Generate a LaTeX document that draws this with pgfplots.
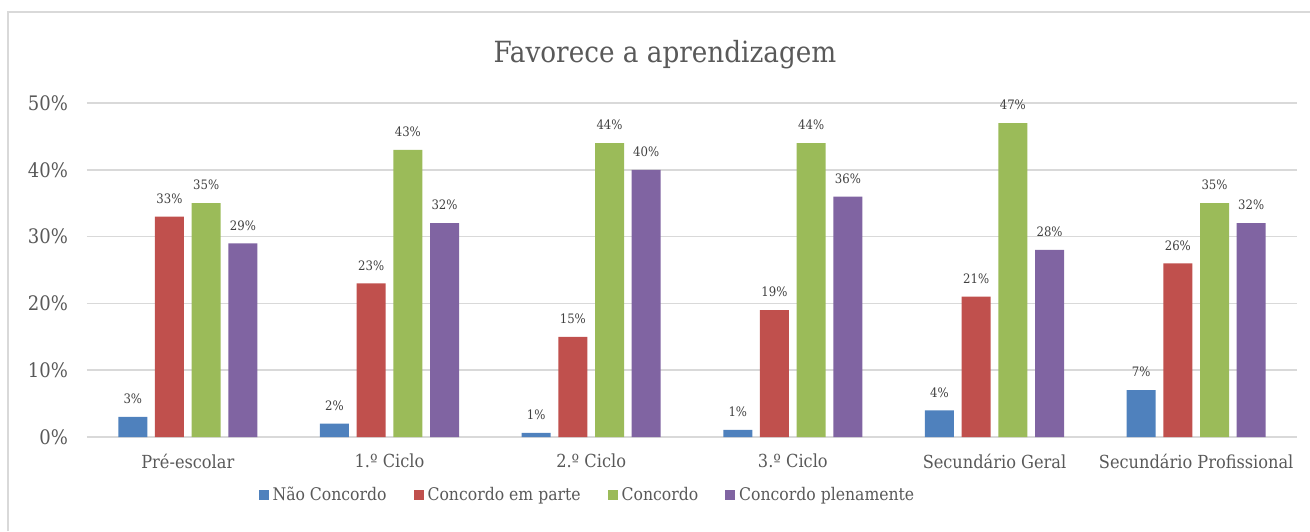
\documentclass[border=0pt]{standalone}
\usepackage{pgfplots}
\pgfplotsset{compat=1.18}
\usepackage{fontspec}
\setmainfont{DejaVu Serif Condensed}
\definecolor{cblue}{HTML}{4F81BD}
\definecolor{cred}{HTML}{C0504D}
\definecolor{cgreen}{HTML}{9BBB59}
\definecolor{cpurple}{HTML}{8064A2}
\definecolor{gridc}{HTML}{D9D9D9}
\definecolor{txt}{HTML}{595959}
\begin{document}
\begin{tikzpicture}
\useasboundingbox (0,0) rectangle (655pt,265.5pt);
\draw[gridc, line width=0.75pt] (4pt,0) -- (4pt,259.5pt) -- (660pt,259.5pt);
\node[txt, font=\fontsize{14.6}{16}\selectfont] at (332.5pt,238pt) {Favorece a aprendizagem};
\begin{axis}[
  at={(43.5pt,47pt)}, anchor=south west,
  scale only axis, width=605pt, height=167pt,
  ybar=3.85pt, bar width=14.5pt,
  xmin=-0.5, xmax=5.5, ymin=0, ymax=50,
  xtick=data,
  xticklabels={Pré-escolar,1.º Ciclo,2.º Ciclo,3.º Ciclo,Secundário Geral,Secundário Profissional},
  ytick={0,10,20,30,40,50},
  /pgf/number format/assume math mode=true,
  yticklabel={\pgfmathprintnumber[fixed,precision=0]{\tick}\%},
  ymajorgrids, grid style={gridc, line width=0.75pt},
  axis x line*=bottom, axis y line*=left,
  x axis line style={gridc, line width=1pt},
  y axis line style={draw=none},
  major tick length=0pt,
  tick label style={txt},
  xticklabel style={font=\fontsize{9}{10}\selectfont, yshift=-5pt},
  yticklabel style={font=\fontsize{10}{12}\selectfont, xshift=-6pt},
  nodes near coords={\pgfmathprintnumber[fixed,precision=0]{\pgfplotspointmeta}\%},
  every node near coord/.append style={font=\fontsize{6.5}{7}\selectfont, color=black!75, yshift=3pt},
  legend style={at={(0.1365,-0.1737)}, anchor=west, draw=none, fill=none,
    font=\fontsize{8.7}{10}\selectfont, text=txt, legend columns=-1,
    /tikz/every even column/.append style={column sep=11.5pt}},
  legend image code/.code={\fill[#1] (0pt,-2.5pt) rectangle (5pt,2.5pt);},
  clip=false,
]
\addplot[fill=cblue, draw=none] coordinates {(0,3) (1,2) (2,0.6) (3,1.05) (4,4) (5,7)};
\addplot[fill=cred, draw=none] coordinates {(0,33) (1,23) (2,15) (3,19) (4,21) (5,26)};
\addplot[fill=cgreen, draw=none] coordinates {(0,35) (1,43) (2,44) (3,44) (4,47) (5,35)};
\addplot[fill=cpurple, draw=none] coordinates {(0,29) (1,32) (2,40) (3,36) (4,28) (5,32)};
\legend{Não Concordo, Concordo em parte, Concordo, Concordo plenamente}
\end{axis}
\end{tikzpicture}
\end{document}
